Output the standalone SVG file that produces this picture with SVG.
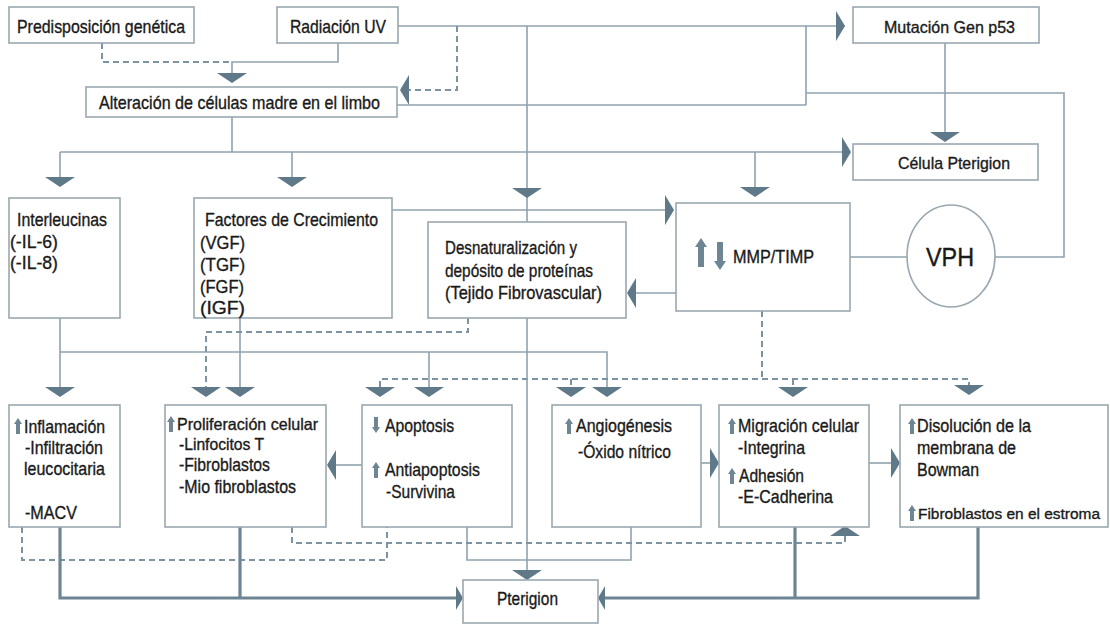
<svg xmlns="http://www.w3.org/2000/svg" xmlns:xlink="http://www.w3.org/1999/xlink" width="1110" height="626" viewBox="0 0 1110 626">
<style>
.box{fill:#fff;stroke:#9aa7b0;stroke-width:1.6}
.ln{fill:none;stroke:#8fa2ae;stroke-width:1.6}
.dash{fill:none;stroke:#7d93a1;stroke-width:2;stroke-dasharray:6 4}
.thick{fill:none;stroke:#6d8593;stroke-width:3.2}
.ah{fill:#5f7988}
.ic{fill:#6e8593}
text{font-family:"Liberation Sans Narrow","Liberation Sans",Arial,sans-serif;fill:#1a1a1a;stroke:#1a1a1a;stroke-width:0.35px;font-size:18.5px}
.sm{font-size:17px}
.xs{font-size:16.5px}
.xxs{font-size:15.5px}
</style>
<defs>
<path id="aD" d="M-15,-10 L15,-10 L0,0 Z"/>
<path id="aU" d="M-15,10 L15,10 L0,0 Z"/>
<path id="aR" d="M-9,-15 L-9,15 L0,0 Z"/>
<path id="aL" d="M9,-15 L9,15 L0,0 Z"/>
<path id="aRt" d="M-7,-12 L-7,12 L0,0 Z"/>
<path id="aLt" d="M7,-12 L7,12 L0,0 Z"/>
<path id="iU" d="M0,-16 L4,-10 L2,-10 L2,0 L-2,0 L-2,-10 L-4,-10 Z"/>
<path id="iD" d="M0,16 L4,10 L2,10 L2,0 L-2,0 L-2,10 L-4,10 Z"/>
</defs>
<g id="connectors">
<path class="ln" d="M398,26 H845"/>
<use href="#aR" class="ah" x="845" y="26"/>
<path class="ln" d="M338,43 V62 H232 V73"/>
<path class="dash" d="M102,43 V62 H232"/>
<use href="#aD" class="ah" x="232" y="83"/>
<path class="dash" d="M457,26 V90 H409"/>
<use href="#aL" class="ah" x="400" y="90"/>
<path class="ln" d="M527,26 V222"/>
<use href="#aD" class="ah" x="527" y="198"/>
<path class="ln" d="M397,105 H806 M806,26 V105"/>
<path class="ln" d="M806,93 H1064 V257 H995"/>
<path class="ln" d="M850,257 H907"/>
<path class="ln" d="M945,43 V134"/>
<use href="#aD" class="ah" x="945" y="142"/>
<path class="ln" d="M232,117 V152 M60,152 H843 M60,152 V178 M292,152 V178 M755,152 V188"/>
<use href="#aR" class="ah" x="851" y="152"/>
<use href="#aD" class="ah" x="60" y="187"/>
<use href="#aD" class="ah" x="292" y="187"/>
<use href="#aD" class="ah" x="755" y="197"/>
<path class="ln" d="M392,210 H665"/>
<use href="#aR" class="ah" x="674" y="210"/>
<path class="ln" d="M676,293 H636"/>
<use href="#aL" class="ah" x="627" y="293"/>
<path class="ln" d="M60,318 V387 M60,352 H607 V387 M429,352 V387 M240,318 V387"/>
<use href="#aD" class="ah" x="60" y="397"/>
<use href="#aD" class="ah" x="607" y="397"/>
<use href="#aD" class="ah" x="429" y="397"/>
<use href="#aD" class="ah" x="240" y="397"/>
<path class="dash" d="M468,318 V332 H206 V387"/>
<use href="#aD" class="ah" x="206" y="397"/>
<path class="dash" d="M762,311 V379 M380,387 V379 H969 V385 M571,379 V387 M793,379 V387"/>
<use href="#aD" class="ah" x="380" y="397"/>
<use href="#aD" class="ah" x="571" y="397"/>
<use href="#aD" class="ah" x="793" y="397"/>
<use href="#aD" class="ah" x="969" y="395"/>
<path class="ln" d="M527,318 V572"/>
<use href="#aD" class="ah" x="527" y="580"/>
<path class="ln" d="M362,465 H335"/>
<use href="#aL" class="ah" x="327" y="465"/>
<path class="ln" d="M701,463 H711"/>
<use href="#aR" class="ah" x="719" y="463"/>
<path class="ln" d="M869,463 H892"/>
<use href="#aR" class="ah" x="900" y="463"/>
<path class="ln" d="M467,527 V560 H631 V527"/>
<path class="dash" d="M22,527 V560 H387 V527"/>
<path class="dash" d="M292,527 V543 H845 V535"/>
<use href="#aU" class="ah" x="845" y="526"/>
<path class="thick" d="M60,527 V598 H457 M240,527 V598"/>
<use href="#aRt" class="ah" x="463" y="598"/>
<path class="thick" d="M978,527 V598 H604 M795,527 V598"/>
<use href="#aLt" class="ah" x="598" y="598"/>
</g>
<g id="pred"><rect class="box" x="9" y="7" width="185" height="36"/><text x="17" y="33" textLength="168" lengthAdjust="spacingAndGlyphs">Predisposición genética</text></g>
<g id="uv"><rect class="box" x="277" y="7" width="121" height="36"/><text x="290" y="33" textLength="96" lengthAdjust="spacingAndGlyphs">Radiación UV</text></g>
<g id="p53"><rect class="box" x="853" y="7" width="186" height="36"/><text class="sm" x="884" y="33" textLength="131" lengthAdjust="spacingAndGlyphs">Mutación Gen p53</text></g>
<g id="alteracion"><rect class="box" x="86" y="87" width="311" height="30"/><text x="99" y="109" textLength="281" lengthAdjust="spacingAndGlyphs">Alteración de células madre en el limbo</text></g>
<g id="celula"><rect class="box" x="853" y="144" width="185" height="36"/><text class="sm" x="898" y="169" textLength="112" lengthAdjust="spacingAndGlyphs">Célula Pterigion</text></g>
<g id="interleucinas"><rect class="box" x="9" y="198" width="111" height="120"/>
<text x="17" y="226" textLength="90" lengthAdjust="spacingAndGlyphs">Interleucinas</text>
<text x="10" y="248" textLength="48" lengthAdjust="spacingAndGlyphs">(-IL-6)</text>
<text x="10" y="269" textLength="48" lengthAdjust="spacingAndGlyphs">(-IL-8)</text></g>
<g id="factores"><rect class="box" x="194" y="198" width="198" height="120"/>
<text x="205" y="226" textLength="173" lengthAdjust="spacingAndGlyphs">Factores de Crecimiento</text>
<text x="200" y="249" textLength="45" lengthAdjust="spacingAndGlyphs">(VGF)</text>
<text x="200" y="271" textLength="45" lengthAdjust="spacingAndGlyphs">(TGF)</text>
<text x="200" y="293" textLength="44" lengthAdjust="spacingAndGlyphs">(FGF)</text>
<text x="200" y="314" textLength="45" lengthAdjust="spacingAndGlyphs">(IGF)</text></g>
<g id="desnat"><rect class="box" x="428" y="222" width="198" height="96"/>
<text x="445" y="254" textLength="132" lengthAdjust="spacingAndGlyphs">Desnaturalización y</text>
<text x="445" y="277" textLength="148" lengthAdjust="spacingAndGlyphs">depósito de proteínas</text>
<text x="445" y="299" textLength="157" lengthAdjust="spacingAndGlyphs">(Tejido Fibrovascular)</text></g>
<g id="mmp"><rect class="box" x="676" y="203" width="174" height="108"/>
<path class="ic" d="M701,238 L707,247 L704,247 L704,267 L698,267 L698,247 L695,247 Z"/>
<path class="ic" d="M720,270 L726,261 L723,261 L723,242 L717,242 L717,261 L714,261 Z"/>
<text x="733" y="263" textLength="81" lengthAdjust="spacingAndGlyphs">MMP/TIMP</text></g>
<g id="vph"><ellipse class="box" cx="951" cy="256" rx="44" ry="51"/><text x="950" y="266" text-anchor="middle" style="font-size:25px" textLength="48" lengthAdjust="spacingAndGlyphs">VPH</text></g>
<g id="inflamacion"><rect class="box" x="9" y="405" width="111" height="122"/>
<use href="#iU" class="ic" x="18" y="434"/>
<text x="24" y="433" textLength="81" lengthAdjust="spacingAndGlyphs">Inflamación</text>
<text x="25" y="454" textLength="78" lengthAdjust="spacingAndGlyphs">-Infiltración</text>
<text x="24" y="475" textLength="81" lengthAdjust="spacingAndGlyphs">leucocitaria</text>
<text x="25" y="519" textLength="52" lengthAdjust="spacingAndGlyphs">-MACV</text></g>
<g id="proliferacion"><rect class="box" x="165" y="405" width="161" height="122"/>
<use href="#iU" class="ic" x="171" y="432"/>
<text class="xs" x="177" y="430" textLength="141" lengthAdjust="spacingAndGlyphs">Proliferación celular</text>
<text class="xs" x="179" y="450" textLength="85" lengthAdjust="spacingAndGlyphs">-Linfocitos T</text>
<text x="179" y="471" textLength="91" lengthAdjust="spacingAndGlyphs">-Fibroblastos</text>
<text x="179" y="493" textLength="117" lengthAdjust="spacingAndGlyphs">-Mio fibroblastos</text></g>
<g id="apoptosis"><rect class="box" x="362" y="405" width="150" height="122"/>
<use href="#iD" class="ic" x="376" y="417"/>
<text x="385" y="432" textLength="69" lengthAdjust="spacingAndGlyphs">Apoptosis</text>
<use href="#iU" class="ic" x="376" y="478"/>
<text x="385" y="476" textLength="95" lengthAdjust="spacingAndGlyphs">Antiapoptosis</text>
<text x="386" y="498" textLength="69" lengthAdjust="spacingAndGlyphs">-Survivina</text></g>
<g id="angiogenesis"><rect class="box" x="552" y="405" width="149" height="122"/>
<use href="#iU" class="ic" x="569" y="434"/>
<text x="576" y="432" textLength="96" lengthAdjust="spacingAndGlyphs">Angiogénesis</text>
<text x="578" y="458" textLength="93" lengthAdjust="spacingAndGlyphs">-Óxido nítrico</text></g>
<g id="migracion"><rect class="box" x="719" y="405" width="150" height="122"/>
<use href="#iU" class="ic" x="732" y="434"/>
<text x="738" y="432" textLength="121" lengthAdjust="spacingAndGlyphs">Migración celular</text>
<text x="738" y="454" textLength="67" lengthAdjust="spacingAndGlyphs">-Integrina</text>
<use href="#iU" class="ic" x="732" y="484"/>
<text x="739" y="482" textLength="65" lengthAdjust="spacingAndGlyphs">Adhesión</text>
<text x="738" y="503" textLength="95" lengthAdjust="spacingAndGlyphs">-E-Cadherina</text></g>
<g id="disolucion"><rect class="box" x="900" y="405" width="208" height="122"/>
<use href="#iU" class="ic" x="912" y="434"/>
<text x="917" y="432" textLength="114" lengthAdjust="spacingAndGlyphs">Disolución de la</text>
<text x="917" y="454" textLength="99" lengthAdjust="spacingAndGlyphs">membrana de</text>
<text x="917" y="476" textLength="62" lengthAdjust="spacingAndGlyphs">Bowman</text>
<use href="#iU" class="ic" x="912" y="521"/>
<text class="xxs" x="918" y="519" textLength="182" lengthAdjust="spacingAndGlyphs">Fibroblastos en el estroma</text></g>
<g id="pterigion"><rect class="box" x="463" y="580" width="135" height="43"/><text x="497" y="605" textLength="61" lengthAdjust="spacingAndGlyphs">Pterigion</text></g>
</svg>
